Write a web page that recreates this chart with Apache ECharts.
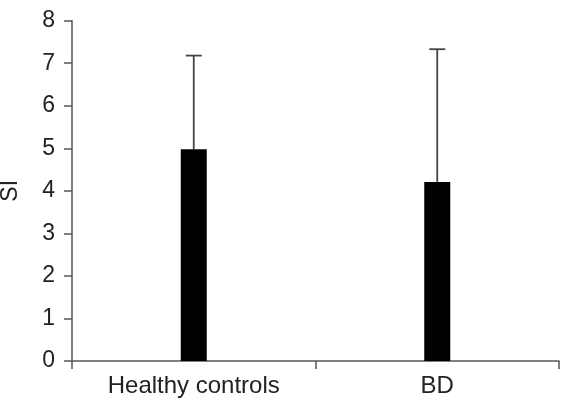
<!DOCTYPE html>
<html>
<head>
<meta charset="utf-8">
<script src="https://cdn.jsdelivr.net/npm/echarts@6/dist/echarts.min.js"></script>
<style>
  html, body { margin: 0; padding: 0; background: #fff; }
  #chart { width: 569px; height: 402px; }
</style>
</head>
<body>
<div id="chart"></div>
<script>
'use strict';

const categories = ['Healthy controls', 'BD'];
const means = [4.98, 4.21];
const upperErrors = [7.18, 7.33];
const yTicks = [0, 1, 2, 3, 4, 5, 6, 7, 8];

const FONT = '"Liberation Sans", Arial, sans-serif';
const AXIS_COLOR = '#555';
const TEXT_COLOR = '#222';

const chart = echarts.init(document.getElementById('chart'));

chart.setOption({
  animation: false,
  grid: { left: 72, right: 10, top: 20.7, bottom: 41, containLabel: false, outerBoundsMode: 'none' },
  xAxis: {
    type: 'category',
    data: categories,
    axisLine: { lineStyle: { color: AXIS_COLOR, width: 1.5 } },
    axisTick: { show: true, length: 8, lineStyle: { color: AXIS_COLOR, width: 1.5 } },
    axisLabel: { color: TEXT_COLOR, fontFamily: FONT, fontSize: 24, margin: 13 }
  },
  yAxis: {
    type: 'value',
    min: yTicks[0],
    max: yTicks[yTicks.length - 1],
    interval: 1,
    name: 'SI',
    nameLocation: 'middle',
    nameGap: 50,
    nameTextStyle: { color: TEXT_COLOR, fontFamily: FONT, fontSize: 23 },
    splitLine: { show: false },
    axisLine: { show: true, lineStyle: { color: AXIS_COLOR, width: 1.5 } },
    axisTick: { show: true, length: 8, lineStyle: { color: AXIS_COLOR, width: 1.5 } },
    axisLabel: { color: TEXT_COLOR, fontFamily: FONT, fontSize: 23, margin: 17 }
  },
  series: [
    {
      type: 'bar',
      data: means,
      barWidth: 26,
      itemStyle: { color: '#000' }
    },
    {
      type: 'custom',
      z: 3,
      data: categories.map((c, i) => [i, means[i], upperErrors[i]]),
      renderItem: (params, api) => {
        const base = api.coord([api.value(0), api.value(1)]);
        const top = api.coord([api.value(0), api.value(2)]);
        const capHalf = 8;
        const style = { stroke: '#444', lineWidth: 1.8 };
        return {
          type: 'group',
          children: [
            { type: 'line', shape: { x1: base[0], y1: base[1], x2: top[0], y2: top[1] }, style },
            { type: 'line', shape: { x1: top[0] - capHalf, y1: top[1], x2: top[0] + capHalf, y2: top[1] }, style }
          ]
        };
      }
    }
  ]
});
</script>
</body>
</html>
